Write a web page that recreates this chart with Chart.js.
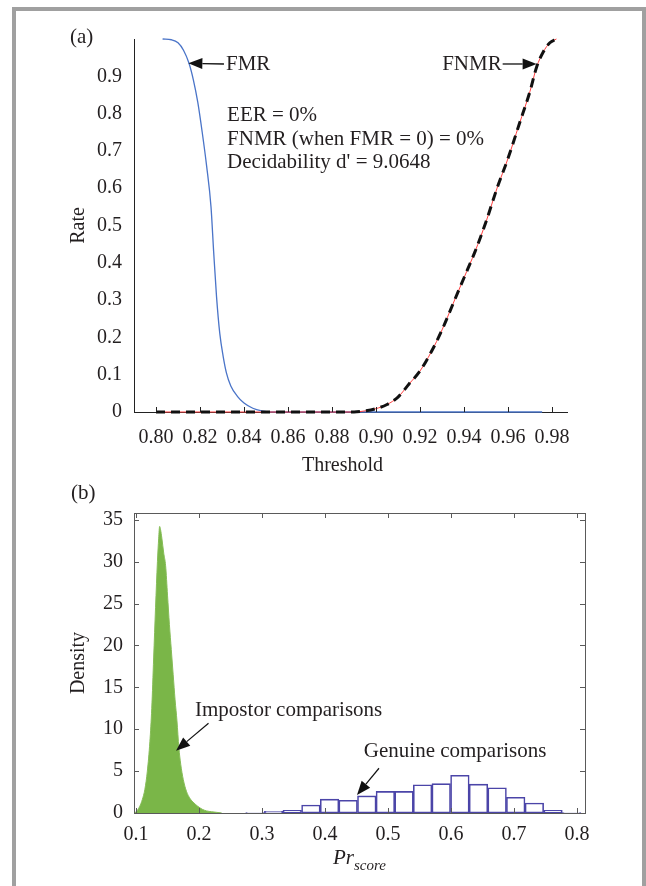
<!DOCTYPE html>
<html>
<head>
<meta charset="utf-8">
<script src="https://cdn.jsdelivr.net/npm/chart.js@4"></script>
<style>
  html,body{margin:0;padding:0;background:#fff;}
  body{width:646px;height:886px;position:relative;overflow:hidden;}
  canvas{position:absolute;left:0;}
  #cA{top:0;}
  #cB{top:480px;}
  #frame{position:absolute;left:12px;top:7px;width:626px;height:900px;border:4px solid #a0a0a0;border-bottom:none;}
</style>
</head>
<body>
<canvas id="cA" width="646" height="480"></canvas>
<canvas id="cB" width="646" height="406"></canvas>
<div id="frame"></div>
<script>
/* ---------- data (a): error rates vs threshold ---------- */
const FMR_T  = [0.803, 0.807, 0.810, 0.8125, 0.815, 0.817, 0.819, 0.821, 0.823, 0.825, 0.8262, 0.8275, 0.829, 0.8305, 0.832, 0.834, 0.837, 0.840, 0.844, 0.848, 0.852, 0.9755];
const FMR_R  = [1.000, 0.998, 0.990, 0.970, 0.935, 0.890, 0.830, 0.750, 0.660, 0.550, 0.430, 0.310, 0.210, 0.150, 0.105, 0.070, 0.042, 0.024, 0.010, 0.003, 0.000, 0.000];
const FNMR_T = [0.800, 0.890, 0.895, 0.900, 0.905, 0.910, 0.915, 0.920, 0.925, 0.930, 0.935, 0.940, 0.945, 0.950, 0.955, 0.960, 0.965, 0.970, 0.973, 0.976, 0.979, 0.982];
const FNMR_R = [0, 0, 0.003, 0.009, 0.020, 0.040, 0.075, 0.110, 0.160, 0.220, 0.290, 0.360, 0.430, 0.510, 0.600, 0.680, 0.770, 0.860, 0.925, 0.965, 0.990, 1.000];
const THR_TICKS  = [0.80, 0.82, 0.84, 0.86, 0.88, 0.90, 0.92, 0.94, 0.96, 0.98];
const RATE_TICKS = [0, 0.1, 0.2, 0.3, 0.4, 0.5, 0.6, 0.7, 0.8, 0.9];
const STATS = ["EER = 0%", "FNMR (when FMR = 0) = 0%", "Decidability d' = 9.0648"];

/* ---------- data (b): score densities ---------- */
const IMP_X = [0.098, 0.102, 0.106, 0.110, 0.114, 0.118, 0.122, 0.125, 0.128, 0.131, 0.134, 0.136, 0.1375, 0.139, 0.141, 0.144, 0.147, 0.150, 0.153, 0.156, 0.159, 0.162, 0.165, 0.168, 0.171, 0.175, 0.180, 0.186, 0.192, 0.198, 0.205, 0.212, 0.220, 0.228, 0.236];
const IMP_D = [0, 0.3, 0.8, 1.6, 2.8, 5.0, 8.5, 12.5, 18.5, 24.5, 30.0, 32.8, 34.2, 33.8, 32.8, 31.0, 29.5, 26.0, 22.5, 19.5, 16.5, 13.5, 11.0, 7.8, 5.8, 4.0, 2.6, 1.7, 1.2, 0.8, 0.45, 0.25, 0.15, 0.08, 0];
const GEN_X = [0.2889, 0.3185, 0.3480, 0.3776, 0.4072, 0.4367, 0.4663, 0.4958, 0.5254, 0.5549, 0.5845, 0.6141, 0.6436, 0.6732, 0.7027, 0.7323, 0.7619, 0.7914];
const GEN_D = [0.05, 0.20, 0.32, 0.96, 1.65, 1.52, 2.04, 2.58, 2.58, 3.36, 3.50, 4.50, 3.44, 3.01, 1.88, 1.19, 0.32, 0.05];
const PR_TICKS  = [0.1, 0.2, 0.3, 0.4, 0.5, 0.6, 0.7, 0.8];
const DEN_TICKS = [0, 5, 10, 15, 20, 25, 30, 35];

const FONT = '"Liberation Serif", "Times New Roman", serif';
const INK = '#231f20';

function fixY(w){ return s => { s.width = w; s.paddingTop = 0; s.paddingBottom = 0; }; }
function fixX(h){ return s => { s.height = h; s.paddingLeft = 0; s.paddingRight = 0; }; }
function setTicks(list){ return s => { s.ticks = list.map(v => ({value: v})); }; }

function arrow(ctx, x0, y0, x1, y1){
    const a = Math.atan2(y1 - y0, x1 - x0), L = 14, W = 5.5;
    const bx = x1 - L * Math.cos(a), by = y1 - L * Math.sin(a);
    ctx.beginPath(); ctx.moveTo(x0, y0); ctx.lineTo(bx, by); ctx.stroke();
    ctx.beginPath(); ctx.moveTo(x1, y1);
    ctx.lineTo(bx + W * Math.sin(a), by - W * Math.cos(a));
    ctx.lineTo(bx - W * Math.sin(a), by + W * Math.cos(a));
    ctx.closePath(); ctx.fill();
}

function vText(ctx, text, x, y){
    ctx.save(); ctx.translate(x, y); ctx.rotate(-Math.PI / 2);
    ctx.textAlign = 'center'; ctx.textBaseline = 'middle';
    ctx.fillText(text, 0, 0); ctx.restore();
}

/* ================= (a) ================= */
const decorA = {
    id: 'decorA',
    afterDraw(chart){
        const {ctx, chartArea: a, scales: {x, y}} = chart;
        ctx.save();
        ctx.strokeStyle = '#222'; ctx.lineWidth = 1;
        ctx.beginPath();
        THR_TICKS.forEach(v => {
            const px = Math.round(x.getPixelForValue(v)) + 0.5;
            ctx.moveTo(px, a.bottom); ctx.lineTo(px, a.bottom - 5);
        });
        ctx.stroke();

        ctx.fillStyle = INK;
        ctx.font = `21px ${FONT}`;
        ctx.textBaseline = 'middle';
        ctx.textAlign = 'left';
        ctx.fillText('(a)', 70, 37);

        // FMR label
        const fy = y.getPixelForValue(0.933);
        const fx = x.getPixelForValue(0.8318);
        ctx.fillText('FMR', fx, fy);
        ctx.strokeStyle = '#111'; ctx.fillStyle = '#111'; ctx.lineWidth = 1.3;
        arrow(ctx, fx - 2, fy, x.getPixelForValue(0.8147), y.getPixelForValue(0.935));

        // FNMR label
        ctx.fillStyle = INK;
        ctx.textAlign = 'right';
        const nx = x.getPixelForValue(0.9571);
        ctx.fillText('FNMR', nx, fy);
        ctx.fillStyle = '#111';
        arrow(ctx, nx + 1, fy, x.getPixelForValue(0.9730), fy);

        // stats block
        ctx.fillStyle = INK;
        ctx.textAlign = 'left'; ctx.textBaseline = 'alphabetic';
        const sx = x.getPixelForValue(0.8323), sy = y.getPixelForValue(0.78);
        STATS.forEach((s, i) => ctx.fillText(s, sx, sy + i * 23.5));

        // axis titles
        ctx.font = `20px ${FONT}`;
        ctx.textAlign = 'center'; ctx.textBaseline = 'middle';
        ctx.fillText('Threshold', (a.left + a.right) / 2 - 8, 466);
        vText(ctx, 'Rate', 79, (a.top + a.bottom) / 2);
        ctx.restore();
    }
};

new Chart(document.getElementById('cA'), {
    type: 'line',
    data: {
        datasets: [
            {data: FNMR_T.map((t, i) => ({x: t, y: FNMR_R[i]})), borderColor: '#111', borderWidth: 3, borderDash: [9, 6], pointRadius: 0, cubicInterpolationMode: 'monotone', clip: 6},
            {data: FNMR_T.map((t, i) => ({x: t, y: FNMR_R[i]})), borderColor: '#ff3f3f', borderWidth: 1, pointRadius: 0, cubicInterpolationMode: 'monotone', clip: 6},
            {data: FMR_T.map((t, i) => ({x: t, y: FMR_R[i]})), borderColor: '#4a74c8', borderWidth: 1.3, pointRadius: 0, cubicInterpolationMode: 'monotone', clip: 6}
        ]
    },
    options: {
        responsive: false, animation: false, devicePixelRatio: 1,
        layout: {padding: {left: 0, top: 39, right: 79, bottom: 0}},
        plugins: {legend: {display: false}, tooltip: {enabled: false}},
        scales: {
            x: {
                type: 'linear', min: 0.79, max: 0.9868,
                afterBuildTicks: setTicks(THR_TICKS), afterFit: fixX(68),
                grid: {display: false, drawTicks: false},
                border: {display: true, color: '#222', width: 1},
                ticks: {font: {family: FONT, size: 20}, color: INK, padding: 14, autoSkip: false, maxRotation: 0, minRotation: 0, callback: v => v.toFixed(2)}
            },
            y: {
                type: 'linear', min: 0, max: 1,
                afterBuildTicks: setTicks(RATE_TICKS), afterFit: fixY(134),
                grid: {display: false, drawTicks: false},
                border: {display: true, color: '#222', width: 1},
                ticks: {font: {family: FONT, size: 20}, color: INK, padding: 12, callback: v => v === 0 ? '0' : v.toFixed(1)}
            }
        }
    },
    plugins: [decorA]
});

/* ================= (b) ================= */
const decorB = {
    id: 'decorB',
    afterDraw(chart){
        const {ctx, chartArea: a, scales: {x, y}} = chart;
        ctx.save();
        ctx.strokeStyle = '#5a5a5a'; ctx.lineWidth = 1;
        ctx.strokeRect(Math.round(a.left) + 0.5, Math.round(a.top) + 0.5, Math.round(a.right - a.left), Math.round(a.bottom - a.top));
        ctx.beginPath();
        PR_TICKS.forEach(v => {
            const px = Math.round(x.getPixelForValue(v)) + 0.5;
            ctx.moveTo(px, a.bottom); ctx.lineTo(px, a.bottom - 5);
            ctx.moveTo(px, a.top); ctx.lineTo(px, a.top + 5);
        });
        DEN_TICKS.forEach(v => {
            const py = Math.round(y.getPixelForValue(v)) + 0.5;
            ctx.moveTo(a.left, py); ctx.lineTo(a.left + 5, py);
            ctx.moveTo(a.right, py); ctx.lineTo(a.right - 5, py);
        });
        ctx.stroke();

        ctx.fillStyle = INK;
        ctx.font = `21px ${FONT}`;
        ctx.textAlign = 'left'; ctx.textBaseline = 'middle';
        ctx.fillText('(b)', 71, 13);

        ctx.textBaseline = 'alphabetic';
        ctx.fillText('Impostor comparisons', x.getPixelForValue(0.1937), y.getPixelForValue(11.59));
        ctx.fillText('Genuine comparisons', x.getPixelForValue(0.4616), y.getPixelForValue(6.69));
        ctx.strokeStyle = '#111'; ctx.fillStyle = '#111'; ctx.lineWidth = 1.2;
        arrow(ctx, x.getPixelForValue(0.2151), y.getPixelForValue(10.72), x.getPixelForValue(0.1635), y.getPixelForValue(7.44));
        arrow(ctx, x.getPixelForValue(0.4857), y.getPixelForValue(5.34), x.getPixelForValue(0.4508), y.getPixelForValue(2.15));

        // axis titles
        ctx.fillStyle = INK;
        ctx.font = `20px ${FONT}`;
        vText(ctx, 'Density', 79, (a.top + a.bottom) / 2);
        ctx.font = `italic 21px ${FONT}`;
        const w1 = ctx.measureText('Pr').width;
        ctx.font = `italic 15px ${FONT}`;
        const w2 = ctx.measureText('score').width;
        const lx = (a.left + a.right) / 2 - (w1 + w2) / 2;
        ctx.textAlign = 'left';
        ctx.font = `italic 21px ${FONT}`;
        ctx.fillText('Pr', lx, 384);
        ctx.font = `italic 15px ${FONT}`;
        ctx.fillText('score', lx + w1, 390);
        ctx.restore();
    }
};

new Chart(document.getElementById('cB'), {
    type: 'bar',
    data: {
        datasets: [
            {type: 'line', data: IMP_X.map((v, i) => ({x: v, y: IMP_D[i]})), fill: 'origin', backgroundColor: '#7ab648', borderColor: '#86bd58', borderWidth: 1, pointRadius: 0, cubicInterpolationMode: 'monotone'},
            {type: 'bar', data: GEN_X.map((v, i) => ({x: v, y: GEN_D[i]})), backgroundColor: '#ffffff', borderColor: '#4b45a8', borderWidth: 1.6, borderSkipped: false, barPercentage: 1, categoryPercentage: 1}
        ]
    },
    options: {
        responsive: false, animation: false, devicePixelRatio: 1,
        layout: {padding: {left: 0, top: 33, right: 61, bottom: 0}},
        plugins: {legend: {display: false}, tooltip: {enabled: false}},
        scales: {
            x: {
                type: 'linear', min: 0.0968, max: 0.8127, offset: false,
                afterBuildTicks: setTicks(PR_TICKS), afterFit: fixX(73),
                grid: {display: false, drawTicks: false, offset: false},
                border: {display: true, color: '#5a5a5a', width: 1},
                ticks: {font: {family: FONT, size: 20}, color: INK, padding: 10, autoSkip: false, maxRotation: 0, minRotation: 0, callback: v => v.toFixed(1)}
            },
            y: {
                type: 'linear', min: 0, max: 35.8,
                afterBuildTicks: setTicks(DEN_TICKS), afterFit: fixY(134),
                grid: {display: false, drawTicks: false},
                border: {display: true, color: '#5a5a5a', width: 1},
                ticks: {font: {family: FONT, size: 20}, color: INK, padding: 11, callback: v => String(v)}
            }
        }
    },
    plugins: [decorB]
});
</script>
</body>
</html>
